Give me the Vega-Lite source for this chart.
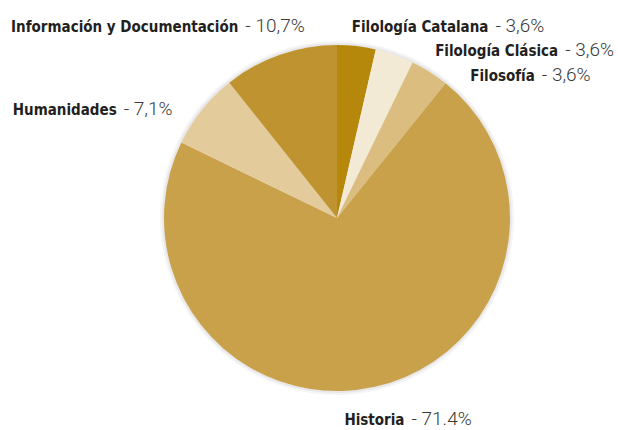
{
  "$schema": "https://vega.github.io/schema/vega-lite/v6.json",
  "autosize": {"type": "none"},
  "width": 562,
  "height": 424,
  "padding": {"left": 56, "top": 6, "right": 0, "bottom": 0},
  "background": "white",
  "config": {"view": {"stroke": null}},
  "data": {"values": [
    {"area": "Filología Catalana", "value": 3.6, "label": "- 3,6%", "order": 1},
    {"area": "Filología Clásica", "value": 3.6, "label": "- 3,6%", "order": 2},
    {"area": "Filosofía", "value": 3.6, "label": "- 3,6%", "order": 3},
    {"area": "Historia", "value": 71.4, "label": "- 71.4%", "order": 4},
    {"area": "Humanidades", "value": 7.1, "label": "- 7,1%", "order": 5},
    {"area": "Información y Documentación", "value": 10.7, "label": "- 10,7%", "order": 6}
  ]},
  "transform": [
    {"stack": "value", "groupby": [], "sort": [{"field": "order"}], "as": ["v0", "v1"]},
    {"calculate": "(datum.v0 + datum.v1) / 2", "as": "mid"}
  ],
  "layer": [
    {
      "mark": {"type": "arc", "outerRadius": 177, "fill": "#000000", "opacity": 0.04, "stroke": null},
      "encoding": {
        "theta": {"field": "v0", "type": "quantitative", "scale": {"domain": [0, 100]}},
        "theta2": {"field": "v1"}
      }
    },
    {
      "mark": {"type": "arc", "outerRadius": 175, "fill": "#000000", "opacity": 0.05, "stroke": null},
      "encoding": {
        "theta": {"field": "v0", "type": "quantitative"},
        "theta2": {"field": "v1"}
      }
    },
    {
      "mark": {"type": "arc", "outerRadius": 173, "stroke": null},
      "encoding": {
        "theta": {"field": "v0", "type": "quantitative"},
        "theta2": {"field": "v1"},
        "color": {
          "field": "area", "type": "nominal", "legend": null,
          "scale": {
            "domain": ["Filología Catalana", "Filología Clásica", "Filosofía", "Historia", "Humanidades", "Información y Documentación"],
            "range": ["#b5870a", "#f3ead6", "#dcbd80", "#c9a14a", "#e4cb9b", "#bf9430"]
          }
        }
      }
    },
    {"transform": [{"filter": "datum.area == 'Filología Catalana'"}], "mark": {"type": "text", "radius": 190, "dx": 130, "dy": 3, "align": "right", "baseline": "alphabetic", "font": "DejaVu Sans Condensed", "fontWeight": "bold", "fontSize": 15, "fill": "#231f20"}, "encoding": {"theta": {"field": "mid", "type": "quantitative"}, "text": {"field": "area"}}},
    {"transform": [{"filter": "datum.area == 'Filología Catalana'"}], "mark": {"type": "text", "radius": 190, "dx": 137, "dy": 3, "align": "left", "baseline": "alphabetic", "font": "Roboto", "fontWeight": 300, "fontSize": 19, "fill": "#3a3a3a"}, "encoding": {"theta": {"field": "mid", "type": "quantitative"}, "text": {"field": "label"}}},
    {"transform": [{"filter": "datum.area == 'Filología Clásica'"}], "mark": {"type": "text", "radius": 190, "dx": 158, "dy": 17, "align": "right", "baseline": "alphabetic", "font": "DejaVu Sans Condensed", "fontWeight": "bold", "fontSize": 15, "fill": "#231f20"}, "encoding": {"theta": {"field": "mid", "type": "quantitative"}, "text": {"field": "area"}}},
    {"transform": [{"filter": "datum.area == 'Filología Clásica'"}], "mark": {"type": "text", "radius": 190, "dx": 165, "dy": 17, "align": "left", "baseline": "alphabetic", "font": "Roboto", "fontWeight": 300, "fontSize": 19, "fill": "#3a3a3a"}, "encoding": {"theta": {"field": "mid", "type": "quantitative"}, "text": {"field": "label"}}},
    {"transform": [{"filter": "datum.area == 'Filosofía'"}], "mark": {"type": "text", "radius": 190, "dx": 96, "dy": 23, "align": "right", "baseline": "alphabetic", "font": "DejaVu Sans Condensed", "fontWeight": "bold", "fontSize": 15, "fill": "#231f20"}, "encoding": {"theta": {"field": "mid", "type": "quantitative"}, "text": {"field": "area"}}},
    {"transform": [{"filter": "datum.area == 'Filosofía'"}], "mark": {"type": "text", "radius": 190, "dx": 103, "dy": 23, "align": "left", "baseline": "alphabetic", "font": "Roboto", "fontWeight": 300, "fontSize": 19, "fill": "#3a3a3a"}, "encoding": {"theta": {"field": "mid", "type": "quantitative"}, "text": {"field": "label"}}},
    {"transform": [{"filter": "datum.area == 'Historia'"}], "mark": {"type": "text", "radius": 190, "dx": 26, "dy": 22, "align": "right", "baseline": "alphabetic", "font": "DejaVu Sans Condensed", "fontWeight": "bold", "fontSize": 15, "fill": "#231f20"}, "encoding": {"theta": {"field": "mid", "type": "quantitative"}, "text": {"field": "area"}}},
    {"transform": [{"filter": "datum.area == 'Historia'"}], "mark": {"type": "text", "radius": 190, "dx": 33, "dy": 22, "align": "left", "baseline": "alphabetic", "font": "Roboto", "fontWeight": 300, "fontSize": 19, "fill": "#3a3a3a"}, "encoding": {"theta": {"field": "mid", "type": "quantitative"}, "text": {"field": "label"}}},
    {"transform": [{"filter": "datum.area == 'Humanidades'"}], "mark": {"type": "text", "radius": 190, "dx": -72, "dy": 16, "align": "right", "baseline": "alphabetic", "font": "DejaVu Sans Condensed", "fontWeight": "bold", "fontSize": 15, "fill": "#231f20"}, "encoding": {"theta": {"field": "mid", "type": "quantitative"}, "text": {"field": "area"}}},
    {"transform": [{"filter": "datum.area == 'Humanidades'"}], "mark": {"type": "text", "radius": 190, "dx": -65, "dy": 16, "align": "left", "baseline": "alphabetic", "font": "Roboto", "fontWeight": 300, "fontSize": 19, "fill": "#3a3a3a"}, "encoding": {"theta": {"field": "mid", "type": "quantitative"}, "text": {"field": "label"}}},
    {"transform": [{"filter": "datum.area == 'Información y Documentación'"}], "mark": {"type": "text", "radius": 190, "dx": -36, "dy": -7, "align": "right", "baseline": "alphabetic", "font": "DejaVu Sans Condensed", "fontWeight": "bold", "fontSize": 15, "fill": "#231f20"}, "encoding": {"theta": {"field": "mid", "type": "quantitative"}, "text": {"field": "area"}}},
    {"transform": [{"filter": "datum.area == 'Información y Documentación'"}], "mark": {"type": "text", "radius": 190, "dx": -29, "dy": -7, "align": "left", "baseline": "alphabetic", "font": "Roboto", "fontWeight": 300, "fontSize": 19, "fill": "#3a3a3a"}, "encoding": {"theta": {"field": "mid", "type": "quantitative"}, "text": {"field": "label"}}}
  ]
}
